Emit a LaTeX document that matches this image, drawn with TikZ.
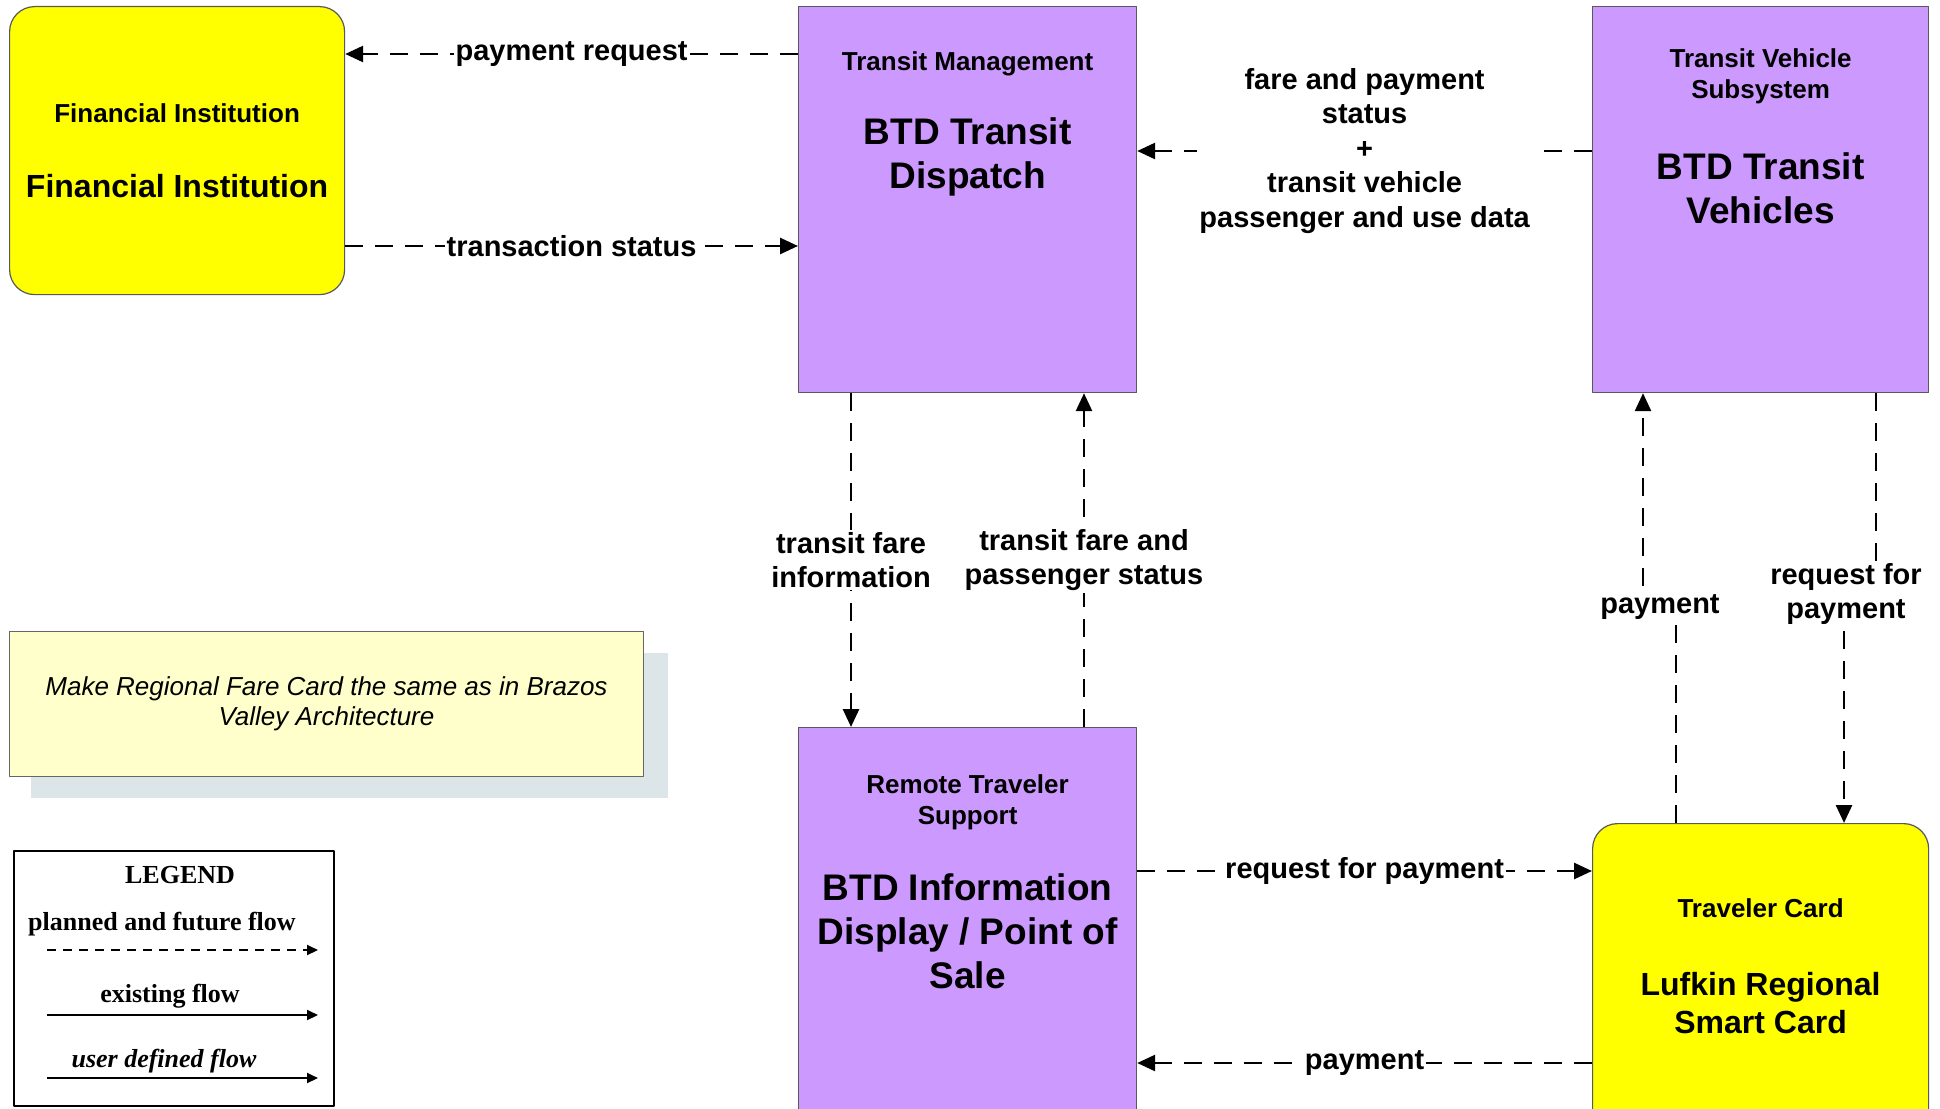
\documentclass[tikz,border=0pt]{standalone}
\usepackage{fontspec}
\setmainfont{Liberation Sans}
\newfontfamily\legendfont{Liberation Serif}
\usetikzlibrary{arrows.meta,positioning,calc}
\definecolor{purp}{RGB}{204,153,255}
\definecolor{termyellow}{RGB}{255,255,0}
\definecolor{notefill}{RGB}{255,255,204}
\definecolor{noteshade}{RGB}{220,230,233}
\begin{document}
\begin{tikzpicture}[x=1pt, y=-1pt, line join=round,
	sysbox/.style={draw=black!65, line width=1.2pt, fill=purp, anchor=north west, inner sep=0pt},
	termbox/.style={sysbox, fill=termyellow, rounded corners=25pt},
	smalltitle/.style={font=\bfseries\fontsize{26}{31}\selectfont, align=center},
	bigtitle/.style={font=\bfseries\fontsize{37}{44}\selectfont, align=center},
	cardtitle/.style={font=\bfseries\fontsize{32}{38}\selectfont, align=center},
	flow/.style={line width=2.7pt, dash pattern=on 18pt off 12pt, -{Triangle[length=18pt,width=16pt]}},
	flowlabel/.style={fill=white, inner sep=2pt, font=\bfseries\fontsize{29}{34.5}\selectfont, align=center},
	legendtext/.style={font=\legendfont\bfseries\fontsize{26}{30}\selectfont},
	legendarrow/.style={line width=2pt, -{Triangle[length=11pt,width=10pt]}}]
	\useasboundingbox (0,0) rectangle (1940,1108);
	% Boxes
	\node[termbox, minimum width=335pt, minimum height=288pt] (fin) at (9,6) {};
	\node[sysbox, minimum width=338pt, minimum height=386pt] (disp) at (798,6) {};
	\node[sysbox, minimum width=336pt, minimum height=386pt] (veh) at (1592,6) {};
	\node[sysbox, minimum width=338pt, minimum height=420pt] (rts) at (798,727) {};
	\node[termbox, minimum width=336pt, minimum height=330pt] (card) at (1592,823) {};
	% Titles
	\node[smalltitle] (finsmall) at ($(fin.north)+(0,107)$) {Financial Institution};
	\node[cardtitle] (finbig) at ($(fin.north)+(0,180)$) {Financial Institution};
	\node[smalltitle] (dispsmall) at ($(disp.north)+(0,58)$) {Transit Management};
	\node[bigtitle] (dispbig) at ($(disp.north)+(0,151)$) {BTD Transit\\Dispatch};
	\node[smalltitle] (vehsmall) at ($(veh.north)+(0,70)$) {Transit Vehicle\\Subsystem};
	\node[bigtitle] (vehbig) at ($(veh.north)+(0,182)$) {BTD Transit\\Vehicles};
	\node[smalltitle] (rtssmall) at ($(rts.north)+(0,75)$) {Remote Traveler\\Support};
	\node[bigtitle] (rtsbig) at ($(rts.north)+(0,204)$) {BTD Information\\Display / Point of\\Sale};
	\node[smalltitle] (cardsmall) at ($(card.north)+(0,85)$) {Traveler Card};
	\node[cardtitle] (cardbig) at ($(card.north)+(0,180)$) {Lufkin Regional\\Smart Card};
	% Flows
	\draw[flow] ($(disp.north west)+(0,48)$) -- node[flowlabel, midway] (f1) {payment request} ($(fin.north east)+(0,48)$);
	\draw[flow] ($(fin.north east)+(0,240)$) -- node[flowlabel, midway] (f2) {transaction status} ($(disp.north west)+(0,240)$);
	\draw[flow] ($(veh.north west)+(0,145)$) -- node[flowlabel, midway] (f3) {fare and payment\\status\\+\\transit vehicle\\passenger and use data} ($(disp.north east)+(0,145)$);
	\draw[flow] ($(disp.south west)+(53,0)$) -- node[flowlabel, midway] (f4) {transit fare\\information} ($(rts.north west)+(53,0)$);
	\draw[flow] ($(rts.north west)+(286,0)$) -- node[flowlabel, midway] (f5) {transit fare and\\passenger status} ($(disp.south west)+(286,0)$);
	\coordinate (paymid) at (1660,607);
	\coordinate (reqmid) at (1846,607);
	\draw[flow] ($(card.north west)+(84,0)$) |- (paymid) node[flowlabel] (f6) {payment} -| ($(veh.south west)+(51,0)$);
	\draw[flow] ($(veh.south west)+(284,0)$) |- (reqmid) node[flowlabel, yshift=13pt] (f7) {request for\\payment} -| ($(card.north west)+(252,0)$);
	\draw[flow] ($(rts.north east)+(0,144)$) -- node[flowlabel, midway] (f8) {request for payment} ($(card.north west)+(0,48)$);
	\draw[flow] ($(card.north west)+(0,240)$) -- node[flowlabel, midway] (f9) {payment} ($(rts.north east)+(0,336)$);
	% Note
	\node[fill=noteshade, anchor=north west, minimum width=637pt, minimum height=145pt] (noteshadow) at (31,653) {};
	\node[draw=black!60, line width=1pt, fill=notefill, anchor=north west, minimum width=634pt, minimum height=145pt,
		font=\itshape\fontsize{26}{30}\selectfont, align=center] (note) at (9,631) {Make Regional Fare Card the same as in Brazos\\Valley Architecture};
	% Legend
	\node[draw, line width=2.2pt, anchor=north west, minimum width=320pt, minimum height=255pt] (legend) at (13,850) {};
	\node[legendtext] (legtitle) at (180,875) {LEGEND};
	\node[legendtext] (legplan) at (162,924) {planned and future flow};
	\coordinate (plan1) at (47,950); \coordinate (plan2) at (318,950);
	\draw[legendarrow, dash pattern=on 9pt off 7pt] (plan1) -- (plan2);
	\node[legendtext] (legexist) at (170,996) {existing flow};
	\coordinate (exist1) at (47,1015); \coordinate (exist2) at (318,1015);
	\draw[legendarrow] (exist1) -- (exist2);
	\node[legendtext, font=\legendfont\bfseries\itshape\fontsize{26}{30}\selectfont] (leguser) at (164,1061) {user defined flow};
	\coordinate (user1) at (47,1078); \coordinate (user2) at (318,1078);
	\draw[legendarrow] (user1) -- (user2);
\end{tikzpicture}
\end{document}
